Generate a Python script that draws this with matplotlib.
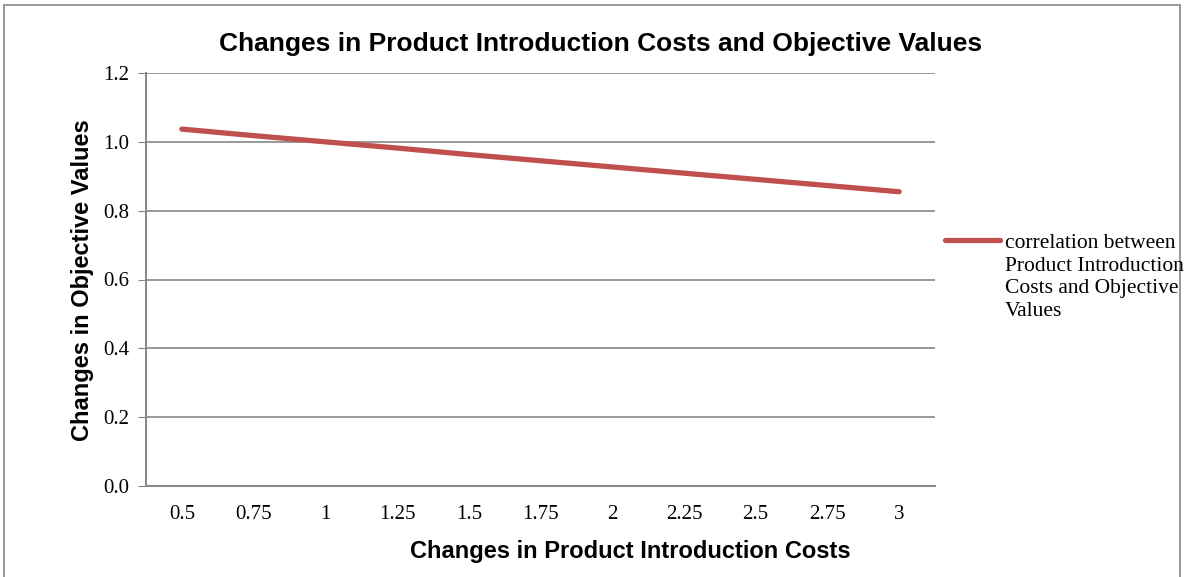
import matplotlib.pyplot as plt
from matplotlib.patches import Rectangle
from matplotlib.lines import Line2D

# ========= datos =========
cost_labels = ["0.5", "0.75", "1", "1.25", "1.5", "1.75", "2", "2.25", "2.5", "2.75", "3"]
objective_values = [1.037, 1.018, 1.000, 0.982, 0.963, 0.945, 0.927, 0.909, 0.891, 0.873, 0.855]
y_ticks = [0.0, 0.2, 0.4, 0.6, 0.8, 1.0, 1.2]
series_label = "correlation between\nProduct Introduction\nCosts and Objective\nValues"

line_color = "#C0504D"
grid_color = "#868686"
serif = "Liberation Serif"
sans = "Liberation Sans"
W, H = 1184, 577

# ========= figura =========
fig = plt.figure(figsize=(W / 100, H / 100), dpi=100)
ax = fig.add_axes([146 / W, 1 - 486 / H, (935 - 146) / W, (486 - 73) / H])

pos = range(len(cost_labels))
ax.plot(list(pos), objective_values, color=line_color, lw=3.8,
        solid_capstyle="round")

ax.set_xlim(-0.5, len(cost_labels) - 0.5)
ax.set_ylim(0, 1.2)
ax.set_yticks(y_ticks)
ax.set_yticklabels([f"{v:.1f}" for v in y_ticks], fontfamily=serif, fontsize=15)
ax.set_xticks(list(pos))
ax.set_xticklabels(cost_labels, fontfamily=serif, fontsize=15)
ax.tick_params(axis="x", length=0, pad=14)
ax.tick_params(axis="y", length=6, color=grid_color, pad=6)

ax.grid(axis="y", color=grid_color, lw=1.2)
ax.set_axisbelow(True)
for s in ["top", "right"]:
    ax.spines[s].set_visible(False)
for s in ["left", "bottom"]:
    ax.spines[s].set_color(grid_color)
    ax.spines[s].set_linewidth(1.4)

# título centrado en el gráfico completo
fig.text(601 / W, 1 - 44 / H, "Changes in Product Introduction Costs and Objective Values",
         fontfamily=sans, fontweight="bold", fontsize=19, ha="center", va="center")
ax.set_xlabel("Changes in Product Introduction Costs",
              fontfamily=sans, fontweight="bold", fontsize=17)
ax.xaxis.set_label_coords((630 - 146) / (935 - 146), -0.13)
ax.set_ylabel("Changes in Objective Values",
              fontfamily=sans, fontweight="bold", fontsize=17)
ax.yaxis.set_label_coords(-(146 - 94) / (935 - 146), (486 - 280) / (486 - 73))

# leyenda a la derecha
fig.add_artist(Line2D([945 / W, 1000 / W], [1 - 240 / H, 1 - 240 / H],
                      transform=fig.transFigure, color=line_color, lw=3.8,
                      solid_capstyle="round"))
fig.text(1005 / W, 1 - 234 / H, series_label, fontfamily=serif, fontsize=15.5,
         va="top", ha="left", linespacing=1.26)

# borde del gráfico
fig.add_artist(Rectangle((4 / W, -0.1), 1176 / W, 1.1 - 5 / H,
                         transform=fig.transFigure, fill=False,
                         edgecolor=grid_color, lw=1.2))

fig.savefig("out.png", dpi=100)
